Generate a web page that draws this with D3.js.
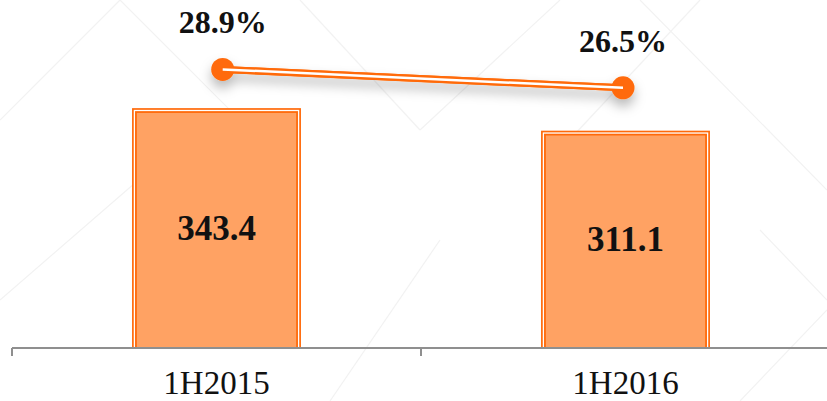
<!DOCTYPE html>
<html><head><meta charset="utf-8">
<script src="https://cdn.jsdelivr.net/npm/d3@7"></script>
<style>html,body{margin:0;padding:0;background:#fff;overflow:hidden}</style>
</head><body>
<svg id="c" width="827" height="401"></svg>
<script>
const categories = ["1H2015", "1H2016"];
const barValues = [343.4, 311.1];
const barLabels = ["343.4", "311.1"];
const pctValues = [28.9, 26.5];
const pctLabels = ["28.9%", "26.5%"];

const svg = d3.select("#c");
const orange = "#FF6A0A", fillC = "#FFA263", axisC = "#8F8F8F";

const defs = svg.append("defs");
const f = defs.append("filter").attr("id","sh").attr("x","-20%").attr("y","-100%").attr("width","140%").attr("height","400%");
f.append("feDropShadow").attr("dx",0).attr("dy",7).attr("stdDeviation",6).attr("flood-color","#000").attr("flood-opacity",0.28);

// faint background texture
const bg = svg.append("g").attr("stroke","#f2f2f2").attr("stroke-width",1.2).attr("fill","none");
[[0,120,120,0],[120,0,260,140],[300,0,420,130],[420,130,560,0],[640,0,827,190],[700,0,560,150],[0,300,150,170],[440,240,330,401],[760,230,827,300],[740,401,827,310]].forEach(l=>{
  bg.append("line").attr("x1",l[0]).attr("y1",l[1]).attr("x2",l[2]).attr("y2",l[3]);
});

const x = d3.scaleBand().domain(categories).range([12, 830]).paddingInner(0).paddingOuter(0);
const y = d3.scaleLinear().domain([0, 500]).range([348, -1.25]);
const yP = d3.scaleLinear().domain([0, 30]).range([291, 61]);
const xP = d3.scalePoint().domain(categories).range([222.7, 623]);

const barW = x.bandwidth() * 0.413;
const bars = svg.append("g").selectAll("g").data(categories).join("g");
const bx = (c) => x(c) + (x.bandwidth() - barW) / 2;
const layers = [[0, orange], [1.7, "#fff"], [3, orange], [4.8, fillC]];
layers.forEach(([ins, col]) => {
  bars.append("rect")
    .attr("x", c => bx(c) + ins)
    .attr("y", (c, i) => y(barValues[i]) + ins)
    .attr("width", barW - 2 * ins)
    .attr("height", (c, i) => y(0) + 1 - y(barValues[i]) - ins)
    .attr("fill", col);
});
bars.append("text")
  .attr("x", c => x(c) + x.bandwidth() / 2)
  .attr("y", (c, i) => (y(barValues[i]) + y(0)) / 2 + 11.5)
  .attr("text-anchor", "middle")
  .attr("font-family", "Liberation Serif")
  .attr("font-weight", "bold")
  .attr("font-size", 35)
  .attr("fill", "#111")
  .text((c, i) => barLabels[i]);

// axis
const ax = svg.append("g");
ax.append("line").attr("x1", x.range()[0]).attr("x2", x.range()[1]).attr("y1", y(0)).attr("y2", y(0))
  .attr("stroke", axisC).attr("stroke-width", 2);
const tickPos = categories.map(c => x(c)).concat([x.range()[1]]);
ax.selectAll(".tk").data(tickPos).join("line")
  .attr("x1", d => d).attr("x2", d => d).attr("y1", y(0)).attr("y2", y(0) + 8)
  .attr("stroke", axisC).attr("stroke-width", 2);
ax.selectAll(".lb").data(categories).join("text")
  .attr("x", c => x(c) + x.bandwidth() / 2)
  .attr("y", 394)
  .attr("text-anchor", "middle")
  .attr("font-family", "Liberation Serif")
  .attr("font-size", 33)
  .attr("fill", "#111")
  .text(c => c);

// line series
const lg = svg.append("g");
const shadow = lg.append("g").attr("filter", "url(#sh)");
const lineGen = d3.line().x((d, i) => xP(categories[i])).y(d => yP(d));
shadow.append("path").datum(pctValues).attr("d", lineGen).attr("fill", "none")
  .attr("stroke", orange).attr("stroke-width", 7);
shadow.selectAll("circle").data(pctValues).join("circle")
  .attr("cx", (d, i) => xP(categories[i])).attr("cy", d => yP(d)).attr("r", 11.5).attr("fill", orange);
lg.append("path").datum(pctValues).attr("d", lineGen).attr("fill", "none")
  .attr("stroke", orange).attr("stroke-width", 7);
lg.append("path").datum(pctValues).attr("d", lineGen).attr("fill", "none")
  .attr("stroke", "#fff").attr("stroke-width", 2.5);
lg.selectAll("circle").data(pctValues).join("circle")
  .attr("cx", (d, i) => xP(categories[i])).attr("cy", d => yP(d)).attr("r", 11.5).attr("fill", orange);
lg.selectAll("text").data(pctValues).join("text")
  .attr("x", (d, i) => xP(categories[i]))
  .attr("y", d => yP(d) - 36)
  .attr("text-anchor", "middle")
  .attr("font-family", "Liberation Serif")
  .attr("font-weight", "bold")
  .attr("font-size", 32)
  .attr("fill", "#111")
  .text((d, i) => pctLabels[i]);
</script>
</body></html>
